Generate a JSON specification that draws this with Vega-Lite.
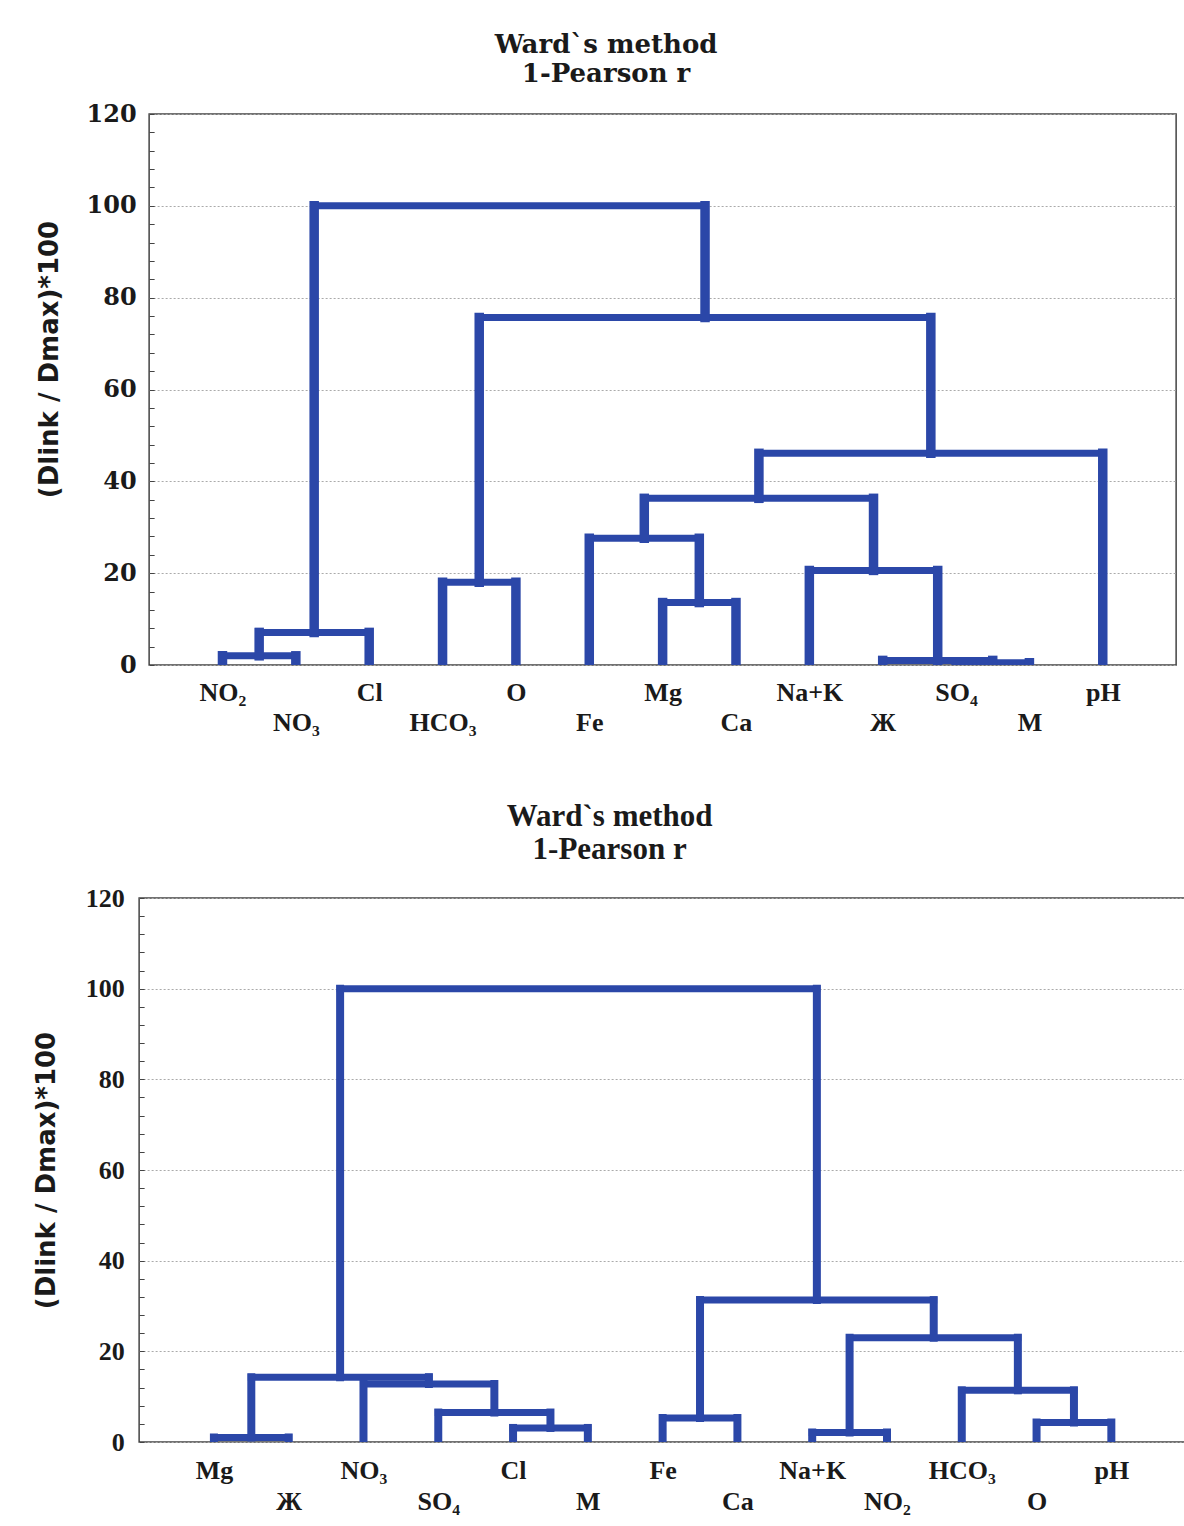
{
  "$schema": "https://vega.github.io/schema/vega-lite/v6.json",
  "background": "white",
  "padding": {"left": 32, "top": 31, "right": 0, "bottom": 0},
  "spacing": 64,
  "center": true,
  "config": {
    "view": {"stroke": "#444", "strokeWidth": 1.5},
    "axis": {"domain": false, "gridColor": "#aaa", "gridDash": [2, 2], "gridWidth": 1, "labelColor": "#1a1a1a", "titleColor": "#1a1a1a", "labelFontWeight": "bold", "titleFont": "DejaVu Sans", "titleFontWeight": "bold", "titleFontSize": 26, "tickColor": "#444"},
    "title": {"color": "#1a1a1a", "fontWeight": "bold", "anchor": "middle", "frame": "bounds"}
  },
  "datasets": {
    "links": [
      {"p": "A", "x": 1, "x2": 2, "y": 2, "y2": 2},
      {"p": "A", "x": 1, "x2": 1, "y": 0, "y2": 2},
      {"p": "A", "x": 2, "x2": 2, "y": 0, "y2": 2},
      {"p": "A", "x": 1.5, "x2": 3, "y": 7.1, "y2": 7.1},
      {"p": "A", "x": 1.5, "x2": 1.5, "y": 2, "y2": 7.1},
      {"p": "A", "x": 3, "x2": 3, "y": 0, "y2": 7.1},
      {"p": "A", "x": 4, "x2": 5, "y": 18, "y2": 18},
      {"p": "A", "x": 4, "x2": 4, "y": 0, "y2": 18},
      {"p": "A", "x": 5, "x2": 5, "y": 0, "y2": 18},
      {"p": "A", "x": 7, "x2": 8, "y": 13.6, "y2": 13.6},
      {"p": "A", "x": 7, "x2": 7, "y": 0, "y2": 13.6},
      {"p": "A", "x": 8, "x2": 8, "y": 0, "y2": 13.6},
      {"p": "A", "x": 6, "x2": 7.5, "y": 27.6, "y2": 27.6},
      {"p": "A", "x": 6, "x2": 6, "y": 0, "y2": 27.6},
      {"p": "A", "x": 7.5, "x2": 7.5, "y": 13.6, "y2": 27.6},
      {"p": "A", "x": 11, "x2": 12, "y": 0.5, "y2": 0.5},
      {"p": "A", "x": 11, "x2": 11, "y": 0, "y2": 0.5},
      {"p": "A", "x": 12, "x2": 12, "y": 0, "y2": 0.5},
      {"p": "A", "x": 10, "x2": 11.5, "y": 1, "y2": 1},
      {"p": "A", "x": 10, "x2": 10, "y": 0, "y2": 1},
      {"p": "A", "x": 11.5, "x2": 11.5, "y": 0.5, "y2": 1},
      {"p": "A", "x": 9, "x2": 10.75, "y": 20.6, "y2": 20.6},
      {"p": "A", "x": 9, "x2": 9, "y": 0, "y2": 20.6},
      {"p": "A", "x": 10.75, "x2": 10.75, "y": 1, "y2": 20.6},
      {"p": "A", "x": 6.75, "x2": 9.875, "y": 36.3, "y2": 36.3},
      {"p": "A", "x": 6.75, "x2": 6.75, "y": 27.6, "y2": 36.3},
      {"p": "A", "x": 9.875, "x2": 9.875, "y": 20.6, "y2": 36.3},
      {"p": "A", "x": 8.3125, "x2": 13, "y": 46.1, "y2": 46.1},
      {"p": "A", "x": 8.3125, "x2": 8.3125, "y": 36.3, "y2": 46.1},
      {"p": "A", "x": 13, "x2": 13, "y": 0, "y2": 46.1},
      {"p": "A", "x": 4.5, "x2": 10.65625, "y": 75.7, "y2": 75.7},
      {"p": "A", "x": 4.5, "x2": 4.5, "y": 18, "y2": 75.7},
      {"p": "A", "x": 10.65625, "x2": 10.65625, "y": 46.1, "y2": 75.7},
      {"p": "A", "x": 2.25, "x2": 7.578125, "y": 100, "y2": 100},
      {"p": "A", "x": 2.25, "x2": 2.25, "y": 7.1, "y2": 100},
      {"p": "A", "x": 7.578125, "x2": 7.578125, "y": 75.7, "y2": 100},

      {"p": "B", "x": 1, "x2": 2, "y": 1, "y2": 1},
      {"p": "B", "x": 1, "x2": 1, "y": 0, "y2": 1},
      {"p": "B", "x": 2, "x2": 2, "y": 0, "y2": 1},
      {"p": "B", "x": 5, "x2": 6, "y": 3.1, "y2": 3.1},
      {"p": "B", "x": 5, "x2": 5, "y": 0, "y2": 3.1},
      {"p": "B", "x": 6, "x2": 6, "y": 0, "y2": 3.1},
      {"p": "B", "x": 4, "x2": 5.5, "y": 6.5, "y2": 6.5},
      {"p": "B", "x": 4, "x2": 4, "y": 0, "y2": 6.5},
      {"p": "B", "x": 5.5, "x2": 5.5, "y": 3.1, "y2": 6.5},
      {"p": "B", "x": 3, "x2": 4.75, "y": 12.8, "y2": 12.8},
      {"p": "B", "x": 3, "x2": 3, "y": 0, "y2": 12.8},
      {"p": "B", "x": 4.75, "x2": 4.75, "y": 6.5, "y2": 12.8},
      {"p": "B", "x": 1.5, "x2": 3.875, "y": 14.3, "y2": 14.3},
      {"p": "B", "x": 1.5, "x2": 1.5, "y": 1, "y2": 14.3},
      {"p": "B", "x": 3.875, "x2": 3.875, "y": 12.8, "y2": 14.3},
      {"p": "B", "x": 7, "x2": 8, "y": 5.3, "y2": 5.3},
      {"p": "B", "x": 7, "x2": 7, "y": 0, "y2": 5.3},
      {"p": "B", "x": 8, "x2": 8, "y": 0, "y2": 5.3},
      {"p": "B", "x": 9, "x2": 10, "y": 2.1, "y2": 2.1},
      {"p": "B", "x": 9, "x2": 9, "y": 0, "y2": 2.1},
      {"p": "B", "x": 10, "x2": 10, "y": 0, "y2": 2.1},
      {"p": "B", "x": 12, "x2": 13, "y": 4.3, "y2": 4.3},
      {"p": "B", "x": 12, "x2": 12, "y": 0, "y2": 4.3},
      {"p": "B", "x": 13, "x2": 13, "y": 0, "y2": 4.3},
      {"p": "B", "x": 11, "x2": 12.5, "y": 11.4, "y2": 11.4},
      {"p": "B", "x": 11, "x2": 11, "y": 0, "y2": 11.4},
      {"p": "B", "x": 12.5, "x2": 12.5, "y": 4.3, "y2": 11.4},
      {"p": "B", "x": 9.5, "x2": 11.75, "y": 23, "y2": 23},
      {"p": "B", "x": 9.5, "x2": 9.5, "y": 2.1, "y2": 23},
      {"p": "B", "x": 11.75, "x2": 11.75, "y": 11.4, "y2": 23},
      {"p": "B", "x": 7.5, "x2": 10.625, "y": 31.3, "y2": 31.3},
      {"p": "B", "x": 7.5, "x2": 7.5, "y": 5.3, "y2": 31.3},
      {"p": "B", "x": 10.625, "x2": 10.625, "y": 23, "y2": 31.3},
      {"p": "B", "x": 2.6875, "x2": 9.0625, "y": 100, "y2": 100},
      {"p": "B", "x": 2.6875, "x2": 2.6875, "y": 14.3, "y2": 100},
      {"p": "B", "x": 9.0625, "x2": 9.0625, "y": 31.3, "y2": 100}
    ]
  },
  "vconcat": [
    {
      "width": 1027,
      "height": 551,
      "title": {"text": ["Ward`s method", "1-Pearson r"], "font": "DejaVu Serif", "fontSize": 26, "lineHeight": 29, "offset": 15},
      "data": {"name": "links"},
      "transform": [{"filter": "datum.p == 'A'"}],
      "mark": {"type": "rule", "color": "#2b47a8", "strokeCap": "square", "clip": true},
      "encoding": {
        "x": {"field": "x", "type": "quantitative", "scale": {"domain": [0, 14], "nice": false, "zero": false},
          "axis": {"title": null, "values": [1, 2, 3, 4, 5, 6, 7, 8, 9, 10, 11, 12, 13],
            "labelExpr": "['', 'NO₂', 'NO₃', 'Cl', 'HCO₃', 'O', 'Fe', 'Mg', 'Ca', 'Na+K', 'Ж', 'SO₄', 'M', 'pH'][datum.value]",
            "labelFont": "Liberation Serif", "labelFontSize": 26, "ticks": false, "grid": false, "labelOverlap": false, "labelFlush": false,
            "labelPadding": {"condition": {"test": "datum.value % 2 == 0", "value": 44}, "value": 14}}},
        "x2": {"field": "x2"},
        "y": {"field": "y", "type": "quantitative", "scale": {"domain": [0, 120], "nice": false},
          "axis": {"title": "(Dlink / Dmax)*100", "values": [0, 4, 8, 12, 16, 20, 24, 28, 32, 36, 40, 44, 48, 52, 56, 60, 64, 68, 72, 76, 80, 84, 88, 92, 96, 100, 104, 108, 112, 116, 120],
            "labelExpr": "datum.value % 20 == 0 ? datum.label : ''",
            "labelFont": "DejaVu Serif", "labelFontSize": 24, "tickSize": -5, "labelPadding": 18, "labelOverlap": false, "labelFlush": false,
            "gridOpacity": {"condition": {"test": "datum.value % 20 == 0", "value": 1}, "value": 0},
            "titlePadding": 24, "titleY": 245}},
        "y2": {"field": "y2"},
        "strokeWidth": {"condition": {"test": "datum.x == datum.x2", "value": 9.5}, "value": 7}
      }
    },
    {
      "width": 1047,
      "height": 544,
      "title": {"text": ["Ward`s method", "1-Pearson r"], "font": "Liberation Serif", "fontSize": 31, "lineHeight": 33, "offset": 19},
      "data": {"name": "links"},
      "transform": [{"filter": "datum.p == 'B'"}],
      "mark": {"type": "rule", "color": "#2b47a8", "strokeCap": "square", "clip": true},
      "encoding": {
        "x": {"field": "x", "type": "quantitative", "scale": {"domain": [0, 14], "nice": false, "zero": false},
          "axis": {"title": null, "values": [1, 2, 3, 4, 5, 6, 7, 8, 9, 10, 11, 12, 13],
            "labelExpr": "['', 'Mg', 'Ж', 'NO₃', 'SO₄', 'Cl', 'M', 'Fe', 'Ca', 'Na+K', 'NO₂', 'HCO₃', 'O', 'pH'][datum.value]",
            "labelFont": "Liberation Serif", "labelFontSize": 26, "ticks": false, "grid": false, "labelOverlap": false, "labelFlush": false,
            "labelPadding": {"condition": {"test": "datum.value % 2 == 0", "value": 46}, "value": 15}}},
        "x2": {"field": "x2"},
        "y": {"field": "y", "type": "quantitative", "scale": {"domain": [0, 120], "nice": false},
          "axis": {"title": "(Dlink / Dmax)*100", "values": [0, 4, 8, 12, 16, 20, 24, 28, 32, 36, 40, 44, 48, 52, 56, 60, 64, 68, 72, 76, 80, 84, 88, 92, 96, 100, 104, 108, 112, 116, 120],
            "labelExpr": "datum.value % 20 == 0 ? datum.label : ''",
            "labelFont": "Liberation Serif", "labelFontSize": 26, "tickSize": -5, "labelPadding": 20, "labelOverlap": false, "labelFlush": false,
            "gridOpacity": {"condition": {"test": "datum.value % 20 == 0", "value": 1}, "value": 0},
            "titlePadding": 26}},
        "y2": {"field": "y2"},
        "strokeWidth": {"condition": {"test": "datum.x == datum.x2", "value": 8}, "value": 7}
      }
    }
  ]
}
